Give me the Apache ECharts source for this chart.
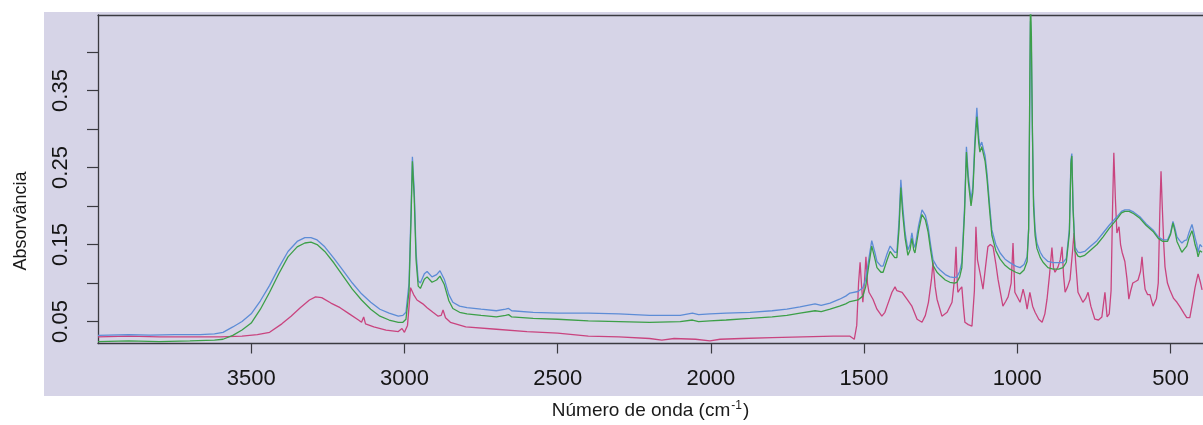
<!DOCTYPE html>
<html>
<head>
<meta charset="utf-8">
<script src="https://cdn.jsdelivr.net/npm/echarts@6/dist/echarts.min.js"></script>
<style>
html,body{margin:0;padding:0;background:#ffffff;}
#chart{width:1203px;height:425px;}
</style>
</head>
<body>
<div id="chart"></div>
<script>
// Tick positions / labels
var xTickValues = [500, 1000, 1500, 2000, 2500, 3000, 3500];
var yTickValues = [0.05, 0.10, 0.15, 0.20, 0.25, 0.30, 0.35, 0.40];
var yLabelValues = [0.05, 0.15, 0.25, 0.35];

// Spectrum 1 (blue): [wavenumber cm-1, absorbance]
var blueSpectrum = [
[4000,0.032],[3900,0.033],[3830,0.0325],[3750,0.033],[3667,0.033],[3620,0.034],[3592,0.036],[3560,0.043],[3530,0.050],[3500,0.060],[3470,0.077],[3440,0.097],[3410,0.120],[3380,0.141],[3350,0.154],[3325,0.159],[3305,0.159],[3285,0.156],[3260,0.147],[3230,0.132],[3200,0.116],[3170,0.100],[3140,0.086],[3110,0.075],[3080,0.066],[3050,0.061],[3020,0.057],[3005,0.058],[2995,0.062],[2985,0.10],[2978,0.20],[2974,0.264],[2968,0.22],[2962,0.14],[2955,0.103],[2948,0.100],[2935,0.112],[2926,0.115],[2910,0.108],[2895,0.111],[2884,0.116],[2870,0.105],[2855,0.085],[2842,0.075],[2820,0.070],[2796,0.068],[2750,0.066],[2700,0.064],[2670,0.066],[2660,0.067],[2650,0.064],[2580,0.062],[2500,0.061],[2400,0.061],[2300,0.060],[2200,0.058],[2100,0.058],[2060,0.061],[2040,0.059],[2003,0.060],[1950,0.061],[1872,0.062],[1800,0.064],[1752,0.066],[1709,0.069],[1660,0.073],[1640,0.071],[1611,0.074],[1580,0.079],[1560,0.083],[1546,0.087],[1520,0.089],[1504,0.094],[1495,0.105],[1485,0.130],[1475,0.155],[1465,0.140],[1458,0.128],[1445,0.122],[1438,0.122],[1425,0.138],[1415,0.148],[1409,0.150],[1400,0.140],[1393,0.140],[1386,0.180],[1380,0.234],[1374,0.200],[1366,0.165],[1357,0.143],[1350,0.150],[1344,0.165],[1338,0.150],[1334,0.146],[1322,0.175],[1311,0.195],[1300,0.188],[1291,0.173],[1283,0.150],[1275,0.130],[1262,0.121],[1252,0.117],[1235,0.111],[1220,0.108],[1205,0.107],[1197,0.108],[1188,0.115],[1181,0.127],[1172,0.200],[1166,0.277],[1160,0.240],[1151,0.208],[1145,0.225],[1138,0.290],[1132,0.3275],[1126,0.290],[1122,0.277],[1116,0.283],[1112,0.283],[1105,0.265],[1099,0.243],[1090,0.200],[1083,0.169],[1070,0.150],[1056,0.139],[1040,0.131],[1024,0.1265],[1005,0.122],[991,0.120],[978,0.124],[968,0.134],[963,0.17],[960,0.30],[957,0.44],[954,0.40],[951,0.30],[947,0.21],[942,0.170],[936,0.152],[925,0.140],[916,0.134],[900,0.128],[883,0.1265],[865,0.1265],[851,0.1265],[840,0.132],[830,0.170],[825,0.26],[822,0.268],[818,0.20],[812,0.147],[802,0.140],[795,0.1395],[780,0.141],[763,0.147],[740,0.155],[720,0.165],[700,0.175],[675,0.186],[660,0.193],[649,0.195],[635,0.195],[620,0.192],[600,0.186],[580,0.177],[557,0.169],[540,0.160],[525,0.156],[510,0.156],[500,0.165],[492,0.180],[486,0.172],[479,0.160],[470,0.155],[463,0.152],[455,0.155],[447,0.156],[440,0.165],[430,0.176],[425,0.168],[420,0.159],[414,0.150],[410,0.140],[404,0.150],[397,0.147]
];

// Spectrum 2 (green)
var greenSpectrum = [
[4000,0.024],[3900,0.025],[3800,0.024],[3700,0.025],[3620,0.026],[3592,0.027],[3560,0.032],[3530,0.039],[3500,0.048],[3470,0.066],[3440,0.088],[3410,0.112],[3380,0.134],[3350,0.147],[3325,0.152],[3305,0.153],[3285,0.150],[3260,0.141],[3230,0.126],[3200,0.109],[3170,0.092],[3140,0.078],[3110,0.066],[3080,0.057],[3050,0.052],[3020,0.049],[3005,0.049],[2995,0.053],[2985,0.09],[2978,0.19],[2974,0.258],[2968,0.21],[2962,0.13],[2955,0.096],[2948,0.093],[2935,0.105],[2926,0.108],[2910,0.101],[2895,0.104],[2884,0.109],[2870,0.098],[2855,0.077],[2842,0.067],[2820,0.062],[2796,0.060],[2750,0.058],[2700,0.056],[2670,0.058],[2660,0.059],[2650,0.056],[2580,0.054],[2500,0.053],[2400,0.051],[2300,0.050],[2200,0.049],[2100,0.050],[2060,0.052],[2040,0.050],[2003,0.051],[1950,0.052],[1872,0.054],[1800,0.056],[1752,0.058],[1709,0.061],[1660,0.064],[1640,0.063],[1611,0.066],[1580,0.070],[1560,0.073],[1546,0.076],[1520,0.078],[1504,0.083],[1495,0.095],[1485,0.122],[1475,0.148],[1465,0.132],[1458,0.120],[1445,0.114],[1438,0.114],[1425,0.130],[1415,0.141],[1409,0.143],[1400,0.133],[1393,0.133],[1386,0.170],[1380,0.224],[1374,0.190],[1366,0.158],[1357,0.136],[1350,0.143],[1344,0.158],[1338,0.143],[1334,0.139],[1322,0.168],[1311,0.189],[1300,0.182],[1291,0.166],[1283,0.143],[1275,0.123],[1262,0.114],[1252,0.110],[1235,0.104],[1220,0.101],[1205,0.100],[1197,0.101],[1188,0.108],[1181,0.120],[1172,0.192],[1166,0.270],[1160,0.232],[1151,0.200],[1145,0.218],[1138,0.280],[1132,0.316],[1126,0.282],[1122,0.270],[1116,0.277],[1112,0.276],[1105,0.258],[1099,0.236],[1090,0.193],[1083,0.162],[1070,0.142],[1056,0.131],[1040,0.123],[1024,0.118],[1005,0.114],[991,0.112],[978,0.117],[968,0.128],[963,0.17],[960,0.32],[957,0.47],[954,0.42],[951,0.31],[947,0.20],[942,0.162],[936,0.145],[925,0.133],[916,0.127],[900,0.120],[883,0.118],[865,0.118],[851,0.120],[840,0.127],[830,0.165],[825,0.255],[822,0.265],[818,0.195],[812,0.142],[802,0.135],[795,0.134],[780,0.136],[763,0.142],[740,0.150],[720,0.160],[700,0.171],[675,0.183],[660,0.191],[649,0.193],[635,0.193],[620,0.190],[600,0.184],[580,0.175],[557,0.167],[540,0.158],[525,0.154],[510,0.154],[500,0.163],[492,0.178],[486,0.168],[479,0.154],[470,0.146],[463,0.140],[455,0.144],[447,0.148],[440,0.158],[430,0.168],[425,0.160],[420,0.150],[414,0.142],[410,0.134],[404,0.142],[397,0.140]
];

// Spectrum 3 (pink)
var pinkSpectrum = [
[4000,0.030],[3900,0.031],[3800,0.030],[3700,0.030],[3600,0.030],[3530,0.031],[3480,0.033],[3440,0.036],[3400,0.047],[3370,0.057],[3340,0.068],[3310,0.078],[3290,0.082],[3270,0.081],[3240,0.074],[3210,0.068],[3180,0.060],[3150,0.052],[3140,0.049],[3133,0.056],[3127,0.047],[3100,0.043],[3060,0.039],[3020,0.037],[3008,0.041],[3000,0.036],[2990,0.045],[2980,0.094],[2970,0.085],[2959,0.078],[2940,0.073],[2926,0.068],[2907,0.062],[2890,0.057],[2880,0.058],[2874,0.065],[2866,0.055],[2850,0.049],[2800,0.043],[2700,0.040],[2600,0.037],[2500,0.035],[2400,0.031],[2300,0.030],[2200,0.028],[2160,0.026],[2120,0.028],[2050,0.027],[2003,0.025],[1970,0.027],[1900,0.028],[1800,0.029],[1700,0.030],[1600,0.031],[1546,0.031],[1532,0.027],[1524,0.045],[1518,0.100],[1513,0.127],[1508,0.095],[1504,0.075],[1499,0.100],[1494,0.134],[1489,0.100],[1484,0.088],[1471,0.079],[1458,0.066],[1442,0.057],[1432,0.062],[1425,0.070],[1409,0.088],[1399,0.095],[1393,0.090],[1389,0.092],[1376,0.088],[1360,0.079],[1344,0.070],[1327,0.053],[1311,0.049],[1300,0.058],[1290,0.075],[1280,0.105],[1275,0.127],[1268,0.095],[1262,0.079],[1246,0.057],[1229,0.062],[1213,0.075],[1205,0.105],[1200,0.147],[1196,0.100],[1194,0.088],[1187,0.092],[1181,0.095],[1176,0.070],[1171,0.049],[1160,0.046],[1148,0.044],[1140,0.090],[1135,0.173],[1130,0.130],[1122,0.114],[1112,0.092],[1104,0.120],[1096,0.147],[1088,0.150],[1079,0.147],[1070,0.125],[1063,0.105],[1047,0.070],[1038,0.076],[1030,0.082],[1020,0.100],[1014,0.152],[1010,0.110],[1008,0.088],[991,0.075],[981,0.092],[974,0.080],[968,0.066],[959,0.088],[950,0.070],[942,0.062],[930,0.053],[919,0.049],[910,0.060],[903,0.079],[895,0.110],[887,0.146],[882,0.120],[877,0.114],[872,0.115],[867,0.121],[860,0.130],[854,0.147],[849,0.110],[844,0.088],[836,0.095],[828,0.1045],[820,0.140],[815,0.165],[810,0.130],[802,0.088],[786,0.075],[777,0.080],[769,0.088],[760,0.070],[747,0.053],[735,0.052],[724,0.056],[714,0.088],[707,0.056],[700,0.060],[694,0.090],[689,0.200],[685,0.269],[680,0.210],[675,0.165],[668,0.173],[663,0.150],[658,0.140],[649,0.128],[642,0.105],[636,0.079],[630,0.090],[623,0.100],[614,0.102],[606,0.104],[598,0.115],[593,0.134],[588,0.110],[583,0.092],[575,0.085],[567,0.085],[557,0.070],[546,0.080],[540,0.100],[535,0.190],[531,0.245],[527,0.200],[522,0.150],[518,0.121],[510,0.100],[502,0.091],[490,0.080],[479,0.075],[469,0.069],[455,0.060],[447,0.055],[437,0.055],[428,0.075],[420,0.094],[414,0.105],[410,0.112],[407,0.113],[402,0.100],[397,0.091]
];

var FONT = '"Liberation Sans", Arial, Helvetica, sans-serif';
var AXIS_COLOR = '#3a3a40';
var X_MIN = 394, X_MAX = 4000;
var Y_MIN = 0.0215, Y_MAX = 0.448;

var chart = echarts.init(document.getElementById('chart'), null, {renderer: 'canvas'});

function lineSeries(name, data, color, z) {
  return {
    name: name, type: 'line', data: data, xAxisIndex: 0, yAxisIndex: 0,
    showSymbol: false, symbol: 'none', smooth: false, clip: true, z: z,
    lineStyle: {color: color, width: 1.3}, emphasis: {disabled: true}, animation: false
  };
}

chart.setOption({
  backgroundColor: '#ffffff',
  animation: false,
  graphic: [
    {type: 'rect', z: -100, silent: true, shape: {x: 44, y: 12, width: 1159, height: 384}, style: {fill: '#d6d4e7'}},
    {type: 'text', z: 100, silent: true, x: 21, y: 221, rotation: Math.PI / 2,
     style: {text: 'Absorvância', font: '18px ' + FONT, fill: '#1a1a1a', textAlign: 'center', textVerticalAlign: 'middle'}}
  ],
  grid: {left: 98, right: 0, top: 15, bottom: 81, containLabel: false},
  xAxis: [{
    type: 'value', inverse: true, min: X_MIN, max: X_MAX, position: 'bottom',
    name: '{a|Número de onda (cm}{s|-1}{a|)}', nameLocation: 'middle', nameGap: 56,
    nameTextStyle: {rich: {
      a: {fontFamily: FONT, fontSize: 19, color: '#1a1a1a', lineHeight: 22},
      s: {fontFamily: FONT, fontSize: 12, color: '#1a1a1a', lineHeight: 22, verticalAlign: 'top', padding: [0, 1, 8, 1]}
    }},
    axisLine: {show: true, onZero: false, lineStyle: {color: AXIS_COLOR, width: 1.3}},
    axisTick: {show: true, length: 10, customValues: xTickValues, lineStyle: {color: AXIS_COLOR, width: 1.2}},
    axisLabel: {show: true, customValues: xTickValues, margin: 24, fontFamily: FONT, fontSize: 22, color: '#151515',
      formatter: function (v) { return String(Math.round(v)); }},
    splitLine: {show: false}
  }, {
    type: 'value', inverse: true, min: X_MIN, max: X_MAX, position: 'top',
    axisLine: {show: true, onZero: false, lineStyle: {color: AXIS_COLOR, width: 1.3}},
    axisTick: {show: false}, axisLabel: {show: false}, splitLine: {show: false}
  }],
  yAxis: [{
    type: 'value', min: Y_MIN, max: Y_MAX, position: 'left',
    axisLine: {show: true, onZero: false, lineStyle: {color: AXIS_COLOR, width: 1.3}},
    axisTick: {show: true, length: 11, customValues: yTickValues, lineStyle: {color: AXIS_COLOR, width: 1.2}},
    axisLabel: {show: true, customValues: yLabelValues, rotate: 90, margin: 26, fontFamily: FONT, fontSize: 22, color: '#151515',
      formatter: function (v) { return v.toFixed(2); }},
    splitLine: {show: false}
  }],
  series: [
    lineSeries('Amostra 3', pinkSpectrum, '#c9447f', 3),
    lineSeries('Amostra 1', blueSpectrum, '#5d8cd6', 4),
    lineSeries('Amostra 2', greenSpectrum, '#3c9f48', 5)
  ]
});
</script>
</body>
</html>
